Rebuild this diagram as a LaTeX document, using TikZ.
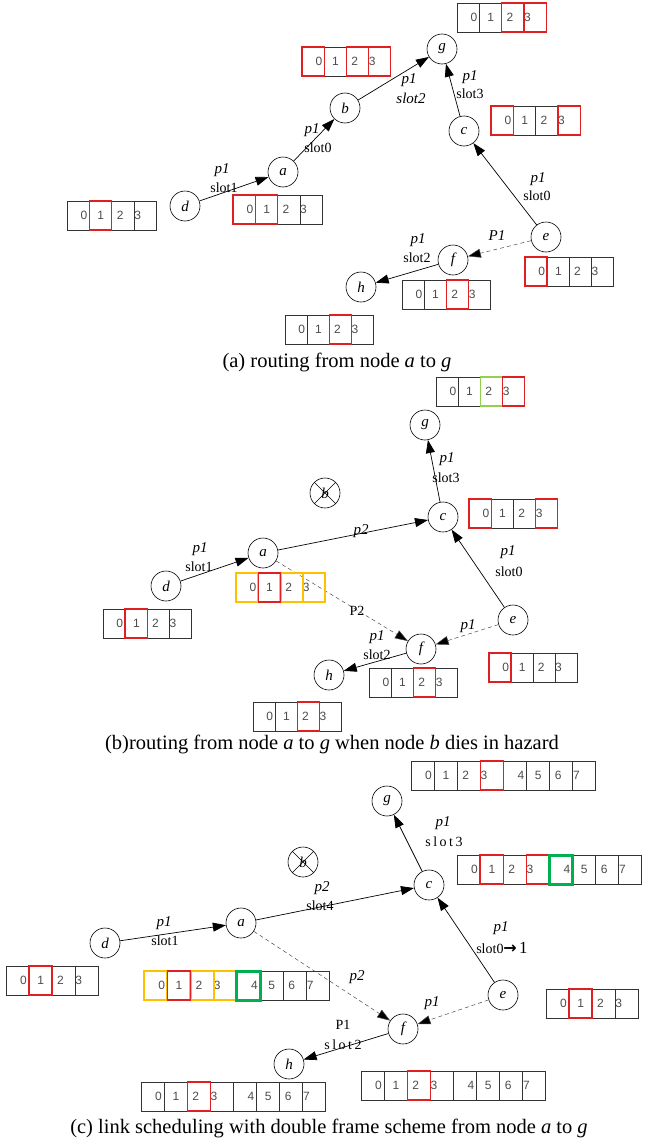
\documentclass[tikz,border=0pt]{standalone}
\usepackage{fontspec}
\setmainfont{Liberation Serif}
\newfontfamily\digitfont{Liberation Sans}
\newfontfamily\spacedfont[LetterSpace=18]{Liberation Serif}
\newfontfamily\symfont{DejaVu Sans}
\usetikzlibrary{arrows.meta}

\definecolor{hlred}{HTML}{E02020}
\definecolor{hlorange}{HTML}{FFC000}
\definecolor{hlgreen}{HTML}{00B050}
\definecolor{hllime}{HTML}{92D050}

\tikzset{
  vertex/.style={circle, draw, line width=0.6pt, minimum size=30pt, inner sep=0pt,
    font=\fontsize{15}{15}\selectfont\itshape},
  link/.style={-{Triangle[length=13pt,width=9pt]}, line width=0.7pt},
  dlink/.style={-{Triangle[length=13pt,width=9pt,fill=black]}, line width=0.5pt,
    draw=black!70, dash pattern=on 4pt off 3pt},
  lab/.style={inner sep=0pt, font=\fontsize{14}{14}\selectfont},
  ilab/.style={lab, font=\fontsize{15}{15}\selectfont\itshape},
  caption/.style={inner sep=0pt, font=\fontsize{20.5}{20.5}\selectfont},
  cell/.style={draw=black!80, line width=0.7pt},
  digit/.style={inner sep=0pt, text=black!70, font=\digitfont\fontsize{12}{12}\selectfont},
  hr/.style={draw=hlred, line width=1.3pt},
  ho/.style={draw=hlorange, line width=2.2pt},
  hg/.style={draw=hlgreen, line width=3pt},
  hl/.style={draw=hllime, line width=1.3pt},
}

% a row of numbered time slots: name, left x, top y, cells, cell width, highlighted cells
\newcommand\slotrow[6]{%
  \foreach \k in {1,...,#4}{
    \draw[cell] ({#2+(\k-1)*#5},#3) rectangle ++(#5,29);
  }
  \foreach \k in {1,...,#4}{
    \pgfmathtruncatemacro\dg{\k-1}
    \pgfmathtruncatemacro\pp{mod(\k-1,4)}
    \pgfmathsetmacro\fr{{0.76,0.51,0.37,0.16}[\pp]}
    \node[digit] (#1-\dg) at ({#2+(\k-1+\fr)*#5},{#3+14.5}) {\dg};
  }
  \foreach \k/\st in {#6}{
    \draw[\st] ({#2+\k*#5},#3) rectangle ++(#5,29);
  }
}

\begin{document}
\begin{tikzpicture}[x=1pt,y=-1pt]
\useasboundingbox (0,0) rectangle (648,1143);

% ---------------- (a) ----------------
\node[vertex] (a-g) at (442,49) {g};
\node[vertex] (a-b) at (345,108) {b};
\node[vertex] (a-a) at (283,172) {a};
\node[vertex] (a-d) at (185,206) {d};
\node[vertex] (a-c) at (464,131) {c};
\node[vertex] (a-e) at (546,237) {e};
\node[vertex] (a-f) at (453,260) {f};
\node[vertex] (a-h) at (361,287) {h};

\draw[link] (a-d) -- (a-a);
\draw[link] (a-a) -- (a-b);
\draw[link] (a-b) -- (a-g);
\draw[link] (a-c) -- (a-g);
\draw[link] (a-e) -- (a-c);
\draw[dlink] (a-e) -- (a-f);
\draw[link] (a-f) -- (a-h);

\node[ilab] (a-l1) at (222,170) {p1};
\node[lab]  (a-l2) at (224,188) {slot1};
\node[ilab] (a-l3) at (312,130) {p1};
\node[lab]  (a-l4) at (318,148) {slot0};
\node[ilab] (a-l5) at (409,80) {p1};
\node[ilab] (a-l6) at (411,98) {slot2};
\node[ilab] (a-l7) at (470,77) {p1};
\node[lab]  (a-l8) at (470,94) {slot3};
\node[ilab] (a-l9) at (538,179) {p1};
\node[lab]  (a-l10) at (537,196) {slot0};
\node[ilab] (a-l11) at (497,236) {P1};
\node[ilab] (a-l12) at (418,240) {p1};
\node[lab]  (a-l13) at (417,258) {slot2};

\slotrow{a-sg}{457}{3}{4}{22.3}{2/hr,3/hr}
\slotrow{a-sb}{302}{47}{4}{22.2}{0/hr,2/hr,3/hr}
\slotrow{a-sc}{491}{106}{4}{22.3}{0/hr,3/hr}
\slotrow{a-sd}{67}{201}{4}{22.4}{1/hr}
\slotrow{a-sa}{233}{195}{4}{22.3}{0/hr,1/hr}
\slotrow{a-se}{525}{257}{4}{22.1}{0/hr}
\slotrow{a-sf}{402}{280}{4}{22.2}{2/hr}
\slotrow{a-sh}{285}{315}{4}{22.1}{2/hr}

\node[caption] (a-cap) at (337,362) {(a) routing from node \textit{a} to \textit{g}};

% ---------------- (b) ----------------
\node[vertex] (b-g) at (425,425) {g};
\node[vertex] (b-c) at (443,517) {c};
\node[vertex] (b-b) at (325,493) {b};
\draw[line width=0.6pt] (b-b.north west) -- (b-b.south east) (b-b.north east) -- (b-b.south west);
\node[vertex] (b-a) at (263,553) {a};
\node[vertex] (b-d) at (166,586) {d};
\node[vertex] (b-e) at (513,620) {e};
\node[vertex] (b-f) at (421,649) {f};
\node[vertex] (b-h) at (329,675) {h};

\draw[link] (b-d) -- (b-a);
\draw[link] (b-a) -- (b-c);
\draw[dlink] (b-a) -- (b-f);
\draw[link] (b-c) -- (b-g);
\draw[link] (b-e) -- (b-c);
\draw[dlink] (b-e) -- (b-f);
\draw[link] (b-f) -- (b-h);

\node[ilab] (b-l1) at (200,549) {p1};
\node[lab]  (b-l2) at (199,567) {slot1};
\node[ilab] (b-l3) at (361,531) {p2};
\node[lab]  (b-l4) at (357,611) {P2};
\node[ilab] (b-l5) at (447,459) {p1};
\node[lab]  (b-l6) at (446,478) {slot3};
\node[ilab] (b-l7) at (508,552) {p1};
\node[lab]  (b-l8) at (509,572) {slot0};
\node[ilab] (b-l9) at (468,626) {p1};
\node[ilab] (b-l10) at (377,637) {p1};
\node[lab]  (b-l11) at (377,655) {slot2};

\slotrow{b-sg}{436}{377}{4}{22.2}{2/hl,3/hr}
\slotrow{b-sc}{469}{499}{4}{22.2}{0/hr,3/hr}
\slotrow{b-sa}{236}{573}{4}{22.2}{0/ho,2/ho,3/ho,1/hr}
\slotrow{b-sd}{103}{609}{4}{22.1}{1/hr}
\slotrow{b-sf}{369}{668}{4}{22.2}{2/hr}
\slotrow{b-se}{489}{653}{4}{22.0}{0/hr}
\slotrow{b-sh}{253}{702}{4}{22.1}{2/hr}

\node[caption] (b-cap) at (332,744) {(b)routing from node \textit{a} to \textit{g} when node \textit{b} dies in hazard};

% ---------------- (c) ----------------
\node[vertex] (c-g) at (387,801) {g};
\node[vertex] (c-b) at (303,862) {b};
\draw[line width=0.6pt] (c-b.north west) -- (c-b.south east) (c-b.north east) -- (c-b.south west);
\node[vertex] (c-c) at (429,885) {c};
\node[vertex] (c-a) at (241,923) {a};
\node[vertex] (c-d) at (105,943) {d};
\node[vertex] (c-e) at (503,995) {e};
\node[vertex] (c-f) at (403,1029) {f};
\node[vertex] (c-h) at (289,1064) {h};

\draw[link] (c-c) -- (c-g);
\draw[link] (c-d) -- (c-a);
\draw[link] (c-a) -- (c-c);
\draw[dlink] (c-a) -- (c-f);
\draw[link] (c-e) -- (c-c);
\draw[dlink] (c-e) -- (c-f);
\draw[link] (c-f) -- (c-h);

\node[ilab] (c-l1) at (443,823) {p1};
\node[lab]  (c-l2) at (444,842) {\spacedfont slot3};
\node[ilab] (c-l3) at (164,923) {p1};
\node[lab]  (c-l4) at (165,941) {slot1};
\node[ilab] (c-l5) at (322,888) {p2};
\node[lab]  (c-l6) at (320,906) {slot4};
\node[ilab] (c-l7) at (357,977) {p2};
\node[ilab] (c-l8) at (501,928) {p1};
\node[lab]  (c-l9) at (502,948) {slot0{\symfont\bfseries\fontsize{16}{16}\selectfont →}\,{\fontsize{17}{17}\selectfont 1}};
\node[ilab] (c-l10) at (432,1003) {p1};
\node[lab]  (c-l11) at (343,1025) {P1};
\node[lab]  (c-l12) at (343,1045) {\spacedfont slot2};

\slotrow{c-sg}{411}{761}{8}{23.1}{3/hr}
\slotrow{c-sc}{457}{855}{8}{23.1}{1/hr,3/hr,4/hg}
\slotrow{c-sd}{6}{966}{4}{23.0}{1/hr}
\slotrow{c-sa}{144}{971}{8}{23.2}{0/ho,2/ho,3/ho,1/hr,4/hg}
\slotrow{c-se}{546}{989}{4}{23.0}{1/hr}
\slotrow{c-sh}{141}{1082}{8}{23.1}{2/hr}
\slotrow{c-sf}{361}{1071}{8}{23.1}{2/hr}

\node[caption] (c-cap) at (329,1128) {(c) link scheduling with double frame scheme from node \textit{a} to \textit{g}};
\end{tikzpicture}
\end{document}
